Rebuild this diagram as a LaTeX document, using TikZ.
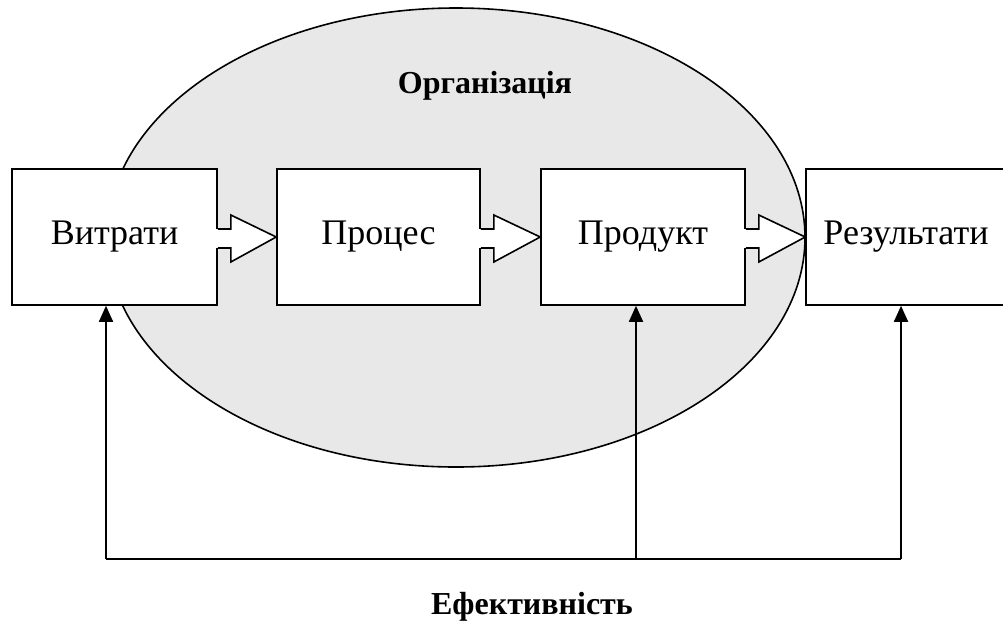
\documentclass[tikz,border=0pt]{standalone}
\usepackage{fontspec}
\setmainfont{Liberation Serif}
\usetikzlibrary{arrows.meta,calc}
\definecolor{orggray}{HTML}{E8E8E8}
\tikzset{
  box/.style={draw=black, line width=1.6pt, fill=white, minimum width=#1, minimum height=136pt, inner sep=0pt, font=\fontsize{36}{40}\selectfont},
  box/.default=204pt,
  feed/.style={line width=1.8pt, -{Triangle[length=16pt,width=14pt]}},
  ttl/.style={font=\bfseries\fontsize{32}{36}\selectfont}
}
\newcommand{\blockarrow}[2]{%
  \fill[white] ($(#1)+(-3,-9)$) rectangle ($(#1)+(13,10)$);
  \filldraw[fill=white, draw=black, line width=1.6pt, line join=miter]
    ($(#1)+(0,-9)$) -- ($(#1)+(13,-9)$) -- ($(#1)+(13,-23)$) -- (#2) --
    ($(#1)+(13,24)$) -- ($(#1)+(13,10)$) -- ($(#1)+(0,10)$);
}
\begin{document}
\begin{tikzpicture}[x=1pt,y=-1pt]
\useasboundingbox (0,0) rectangle (1003,630);
\draw[fill=orggray, line width=1.6pt] (456,237.5) ellipse [x radius=349, y radius=229.5];
\node[ttl] (org) at (485,86) {Організація};
\node[box=205pt] (b1) at (114.5,237) {Витрати};
\node[box=203pt] (b2) at (378.5,237) {Процес};
\node[box=204pt] (b3) at (643,237) {Продукт};
\node[box=200pt] (b4) at (906,237) {Результати};
\path (b1.east) ++(0,1) coordinate (a1s);
\path (b2.east) ++(0,1) coordinate (a2s);
\path (b3.east) ++(0,1) coordinate (a3s);
\blockarrow{a1s}{b2.west}
\blockarrow{a2s}{b3.west}
\blockarrow{a3s}{b4.west}
\coordinate (f1) at (106,559);
\coordinate (f2) at (636,559);
\coordinate (f3) at (901,559);
\draw[line width=1.8pt] (f1) -- (f3);
\draw[feed] (f1) -- (f1 |- b1.south);
\draw[feed] (f2) -- (f2 |- b3.south);
\draw[feed] (f3) -- (f3 |- b4.south);
\node[ttl] (eff) at (532,607) {Ефективність};
\end{tikzpicture}
\end{document}
